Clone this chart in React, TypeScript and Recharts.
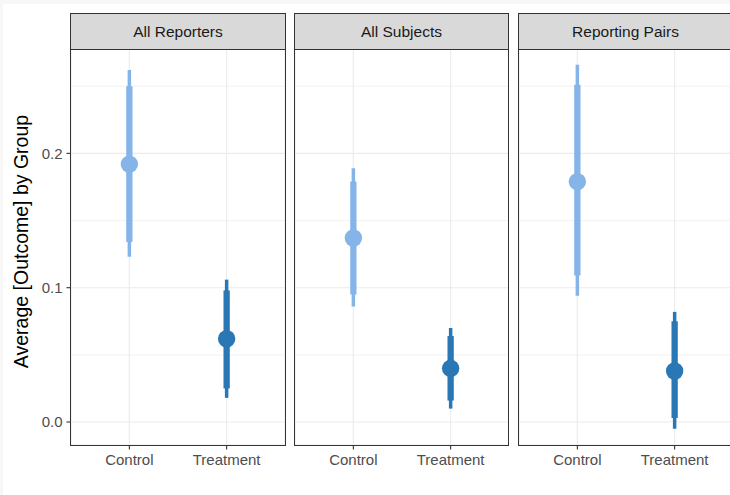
import React from "react";
import { ComposedChart, Scatter, ErrorBar, XAxis, YAxis, CartesianGrid, ReferenceLine } from "recharts";

const categories = ["Control", "Treatment"];
const panels = ["All Reporters", "All Subjects", "Reporting Pairs"];
const yTicks = [0, 0.1, 0.2];
const yMinorTicks = [0.05, 0.15, 0.25];

const controlEstimate = [0.192, 0.137, 0.179];
const controlInnerLow = [0.134, 0.095, 0.109];
const controlInnerHigh = [0.25, 0.179, 0.251];
const controlOuterLow = [0.123, 0.086, 0.094];
const controlOuterHigh = [0.262, 0.189, 0.266];

const treatmentEstimate = [0.062, 0.04, 0.038];
const treatmentInnerLow = [0.025, 0.016, 0.003];
const treatmentInnerHigh = [0.098, 0.064, 0.075];
const treatmentOuterLow = [0.018, 0.01, -0.005];
const treatmentOuterHigh = [0.106, 0.07, 0.082];

const CONTROL_COLOR = "#85B4E8";
const TREATMENT_COLOR = "#2977B5";
const FONT = "'Liberation Sans', Arial, Helvetica, sans-serif";

const Y_DOMAIN: [number, number] = [-0.0171, 0.2777];
const PANEL_TOP = 49;
const PANEL_BOTTOM = 445;
const PANEL_W = 214;
const panelLefts = [71, 294.5, 518.5];
const Y_AXIS_W = 71;

function point(x: number, est: number, il: number, ih: number, ol: number, oh: number) {
  return [{ x, y: est, inner: [est - il, ih - est], outer: [est - ol, oh - est] }];
}

const makeDot = (color: string) => (props: any) => (
  <circle cx={props.cx} cy={props.cy} r={8.7} fill={color} />
);

function Panel({ i }: { i: number }) {
  const showY = i === 0;
  const chartLeft = showY ? panelLefts[i] - Y_AXIS_W : panelLefts[i];
  const chartW = showY ? PANEL_W + Y_AXIS_W : PANEL_W;
  const ctrl = point(1, controlEstimate[i], controlInnerLow[i], controlInnerHigh[i], controlOuterLow[i], controlOuterHigh[i]);
  const trt = point(2, treatmentEstimate[i], treatmentInnerLow[i], treatmentInnerHigh[i], treatmentOuterLow[i], treatmentOuterHigh[i]);
  return (
    <>
      <div style={{ position: "absolute", left: chartLeft, top: 0 }}>
        <ComposedChart width={chartW} height={495} margin={{ top: PANEL_TOP, right: 0, bottom: 0, left: 0 }}>
          <CartesianGrid stroke="#ebebeb" strokeWidth={1.1} />
          {yMinorTicks.map((v) => (
            <ReferenceLine key={v} y={v} stroke="#ebebeb" strokeWidth={0.6} ifOverflow="hidden" />
          ))}
          <XAxis
            type="number"
            dataKey="x"
            domain={[0.4, 2.6]}
            ticks={[1, 2]}
            interval={0}
            allowDataOverflow
            tickFormatter={(v: number) => categories[v - 1]}
            height={495 - PANEL_BOTTOM}
            axisLine={false}
            tickSize={4.5}
            tickMargin={5}
            tickLine={{ stroke: "#333333", strokeWidth: 1.1 }}
            tick={{ fill: "#4d4d4d", fontSize: 15, fontFamily: FONT }}
          />
          <YAxis
            type="number"
            dataKey="y"
            domain={Y_DOMAIN}
            allowDataOverflow
            ticks={yTicks}
            interval={0}
            hide={!showY}
            width={Y_AXIS_W}
            tickFormatter={(v: number) => v.toFixed(1)}
            axisLine={false}
            tickSize={4.5}
            tickMargin={4}
            tickLine={{ stroke: "#333333", strokeWidth: 1.1 }}
            tick={{ fill: "#4d4d4d", fontSize: 15, fontFamily: FONT }}
          />
          <Scatter data={ctrl} isAnimationActive={false} shape={makeDot(CONTROL_COLOR)}>
            <ErrorBar dataKey="outer" direction="y" width={0} stroke={CONTROL_COLOR} strokeWidth={3.5} isAnimationActive={false} />
            <ErrorBar dataKey="inner" direction="y" width={0} stroke={CONTROL_COLOR} strokeWidth={6.3} isAnimationActive={false} />
          </Scatter>
          <Scatter data={trt} isAnimationActive={false} shape={makeDot(TREATMENT_COLOR)}>
            <ErrorBar dataKey="outer" direction="y" width={0} stroke={TREATMENT_COLOR} strokeWidth={3.5} isAnimationActive={false} />
            <ErrorBar dataKey="inner" direction="y" width={0} stroke={TREATMENT_COLOR} strokeWidth={6.3} isAnimationActive={false} />
          </Scatter>
        </ComposedChart>
      </div>
      <div
        style={{
          position: "absolute",
          left: panelLefts[i] - 0.7,
          top: PANEL_TOP - 0.7,
          width: PANEL_W + 1.4,
          height: PANEL_BOTTOM - PANEL_TOP + 1.4,
          border: "1.4px solid #333333",
          boxSizing: "border-box",
          pointerEvents: "none",
        }}
      />
      <div
        style={{
          position: "absolute",
          left: panelLefts[i] - 0.7,
          top: 13.3,
          width: PANEL_W + 1.4,
          height: PANEL_TOP - 13.3 + 0.7,
          border: "1.4px solid #333333",
          boxSizing: "border-box",
          background: "#d9d9d9",
          color: "#1a1a1a",
          fontFamily: FONT,
          fontSize: 15.5,
          paddingTop: 2,
          display: "flex",
          alignItems: "center",
          justifyContent: "center",
        }}
      >
        {panels[i]}
      </div>
    </>
  );
}

export default function App() {
  return (
    <div
      style={{
        position: "absolute",
        left: 0,
        top: 0,
        width: 730,
        height: 495,
        overflow: "hidden",
        background: "#f7f7f7",
      }}
    >
      <div style={{ position: "absolute", left: 3, top: 4, width: 727, height: 491, background: "#ffffff" }} />
      <svg style={{ position: "absolute", left: 0, top: 0 }} width={60} height={495}>
        <text
          transform="translate(27.5, 241.5) rotate(-90)"
          textAnchor="middle"
          fill="#000000"
          fontSize={19.5}
          fontFamily={FONT}
        >
          Average [Outcome] by Group
        </text>
      </svg>
      {panels.map((_, i) => (
        <Panel key={i} i={i} />
      ))}
    </div>
  );
}
